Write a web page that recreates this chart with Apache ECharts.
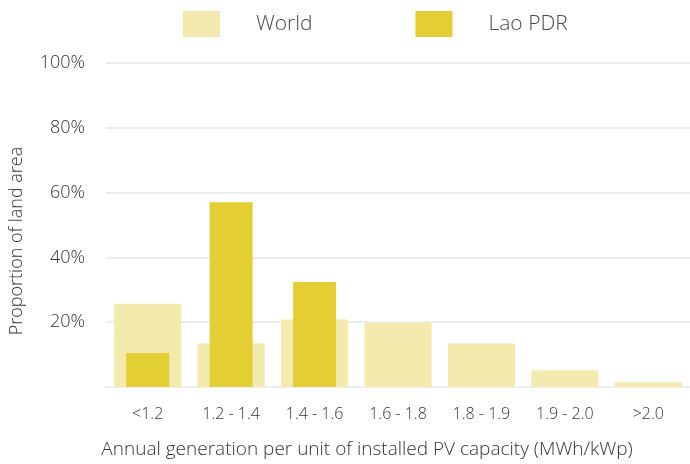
<!DOCTYPE html>
<html><head><meta charset="utf-8">
<script src="https://cdn.jsdelivr.net/npm/echarts@6/dist/echarts.min.js"></script>
<style>html,body{margin:0;padding:0;background:#fff}#c{width:690px;height:464px}</style>
</head><body><div id="c"></div>
<script>
const categories = ['<1.2', '1.2 - 1.4', '1.4 - 1.6', '1.6 - 1.8', '1.8 - 1.9', '1.9 - 2.0', '>2.0'];
const worldValues = [25.7, 13.4, 20.8, 19.8, 13.4, 5.2, 1.5];
const laoValues = [10.5, 57.0, 32.4, 0, 0, 0, 0];
const yTicks = [0, 20, 40, 60, 80, 100];

const FONT = '"Open Sans", "Noto Sans", sans-serif';
const TXT = '#333333';
const chart = echarts.init(document.getElementById('c'));
chart.setOption({
  animation: false,
  textStyle: { fontFamily: FONT },
  legend: {
    left: 183, top: 11, padding: 0,
    itemWidth: 37, itemHeight: 26, itemGap: 103,
    icon: 'rect',
    textStyle: { fontFamily: FONT, fontSize: 21, fontWeight: 300, color: '#4a4a4a', padding: [0, 0, 0, 31] },
    data: ['World', 'Lao PDR']
  },
  grid: { left: 103, right: -3, top: 63, bottom: 76, containLabel: false },
  xAxis: [
    {
      type: 'category', data: categories,
      axisLine: { lineStyle: { color: '#eeeeee', width: 2 } },
      axisTick: { show: false },
      axisLabel: { margin: 19, fontSize: 16, fontWeight: 300, color: TXT, fontFamily: FONT },
      name: 'Annual generation per unit of installed PV capacity (MWh/kWp)',
      nameLocation: 'middle', nameGap: 53,
      nameTextStyle: { fontSize: 19, fontWeight: 300, color: TXT, fontFamily: FONT, padding: [0, 62, 0, 0] }
    },
    { type: 'category', data: categories, show: false }
  ],
  yAxis: {
    type: 'value', min: 0, max: 100, interval: 20,
    axisLine: { show: false }, axisTick: { show: false },
    splitLine: { lineStyle: { color: '#eeeeee', width: 2 } },
    axisLabel: {
      margin: 21, fontSize: 18, fontWeight: 300, color: TXT, fontFamily: FONT,
      formatter: v => (yTicks.indexOf(v) > 0 ? v + '%' : '')
    },
    name: 'Proportion of land area', nameLocation: 'middle', nameGap: 80,
    nameTextStyle: { fontSize: 18, fontWeight: 300, color: TXT, fontFamily: FONT, padding: [0, 32, 0, 0] }
  },
  series: [
    { name: 'World', type: 'bar', xAxisIndex: 0, data: worldValues, barWidth: 67,
      itemStyle: { color: '#F3EAAD' }, z: 2 },
    { name: 'Lao PDR', type: 'bar', xAxisIndex: 1, data: laoValues, barWidth: 43,
      itemStyle: { color: '#E3CF33' }, z: 3 }
  ]
});
</script></body></html>
